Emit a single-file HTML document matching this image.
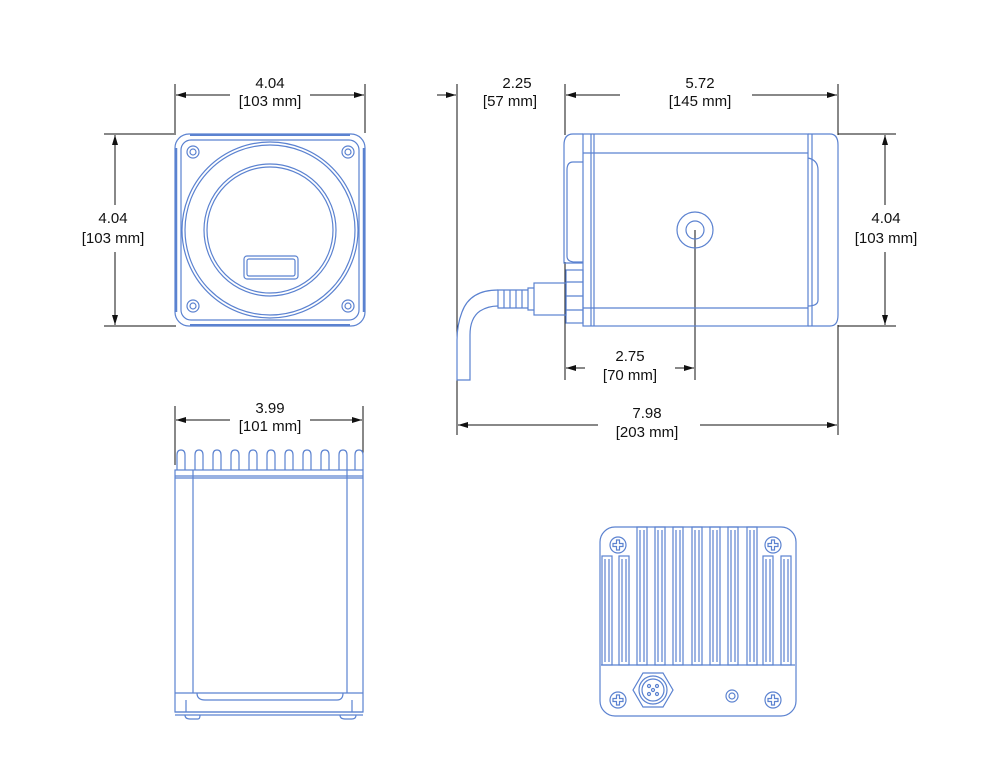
<!DOCTYPE html>
<html><head><style>body{margin:0;background:#fff}svg{display:block}text{font-family:"Liberation Sans",sans-serif;font-size:15px;fill:#111;text-anchor:middle}</style></head><body>
<svg width="1000" height="766" viewBox="0 0 1000 766">
<defs><marker id="a" markerWidth="10" markerHeight="8" refX="10" refY="4" orient="auto" markerUnits="userSpaceOnUse"><path d="M0,1 L10,4 L0,7 Z" fill="#111"/></marker></defs>
<g stroke="#111" stroke-width="1" fill="none">
<line x1="175" y1="84" x2="175" y2="133"/><line x1="365" y1="84" x2="365" y2="133"/>
<line x1="230" y1="95" x2="176" y2="95" marker-end="url(#a)"/><line x1="310" y1="95" x2="364" y2="95" marker-end="url(#a)"/>
<line x1="104" y1="134" x2="176" y2="134"/><line x1="104" y1="326" x2="176" y2="326"/>
<line x1="115" y1="205" x2="115" y2="135" marker-end="url(#a)"/><line x1="115" y1="252" x2="115" y2="325" marker-end="url(#a)"/>
<line x1="457" y1="84" x2="457" y2="435"/><line x1="565" y1="84" x2="565" y2="135"/><line x1="565" y1="262" x2="565" y2="380"/>
<line x1="838" y1="84" x2="838" y2="135"/><line x1="838" y1="325" x2="838" y2="435"/>
<line x1="437" y1="95" x2="456" y2="95" marker-end="url(#a)"/>
<line x1="620" y1="95" x2="566" y2="95" marker-end="url(#a)"/><line x1="752" y1="95" x2="837" y2="95" marker-end="url(#a)"/>
<line x1="838" y1="134" x2="896" y2="134"/><line x1="838" y1="326" x2="896" y2="326"/>
<line x1="885" y1="205" x2="885" y2="135" marker-end="url(#a)"/><line x1="885" y1="252" x2="885" y2="325" marker-end="url(#a)"/>
<line x1="585" y1="368" x2="566" y2="368" marker-end="url(#a)"/><line x1="675" y1="368" x2="694" y2="368" marker-end="url(#a)"/>
<line x1="695" y1="230" x2="695" y2="380"/>
<line x1="598" y1="425" x2="458" y2="425" marker-end="url(#a)"/><line x1="700" y1="425" x2="837" y2="425" marker-end="url(#a)"/>
<line x1="175" y1="406" x2="175" y2="465"/><line x1="363" y1="406" x2="363" y2="465"/>
<line x1="230" y1="420" x2="176" y2="420" marker-end="url(#a)"/><line x1="310" y1="420" x2="362" y2="420" marker-end="url(#a)"/>
</g>
<text x="270" y="88">4.04</text><text x="270" y="106">[103 mm]</text>
<text x="113" y="223">4.04</text><text x="113" y="243">[103 mm]</text>
<text x="517" y="88">2.25</text><text x="510" y="106">[57 mm]</text>
<text x="700" y="88">5.72</text><text x="700" y="106">[145 mm]</text>
<text x="886" y="223">4.04</text><text x="886" y="243">[103 mm]</text>
<text x="630" y="361">2.75</text><text x="630" y="380">[70 mm]</text>
<text x="647" y="418">7.98</text><text x="647" y="437">[203 mm]</text>
<text x="270" y="413">3.99</text><text x="270" y="431">[101 mm]</text>
<g stroke="#5b82d0" stroke-width="1.2" fill="none">
<rect x="175" y="134" width="190" height="192" rx="14"/>
<rect x="181" y="140" width="178" height="180" rx="10"/>
<line x1="176" y1="148" x2="176" y2="312" stroke-width="2.5"/><line x1="364" y1="148" x2="364" y2="312" stroke-width="2.5"/>
<line x1="190" y1="135" x2="350" y2="135" stroke-width="2"/><line x1="190" y1="325" x2="350" y2="325" stroke-width="2"/>
<circle cx="270" cy="230" r="88"/><circle cx="270" cy="230" r="85"/>
<circle cx="270" cy="230" r="66"/><circle cx="270" cy="230" r="63"/>
<rect x="244" y="256" width="54" height="23" rx="3"/><rect x="247" y="259" width="48" height="17" rx="2"/>
<circle cx="193" cy="152" r="6"/><circle cx="193" cy="152" r="3"/>
<circle cx="348" cy="152" r="6"/><circle cx="348" cy="152" r="3"/>
<circle cx="193" cy="306" r="6"/><circle cx="193" cy="306" r="3"/>
<circle cx="348" cy="306" r="6"/><circle cx="348" cy="306" r="3"/>
<path d="M583,134 H573 Q564,134 564,145 V263 H583"/>
<path d="M583,162 H573 Q567,162 567,170 V256 Q567,262 575,262 H583"/>
<rect x="583" y="134" width="225" height="192"/>
<line x1="583" y1="153" x2="808" y2="153"/><line x1="583" y1="308" x2="808" y2="308"/>
<line x1="591" y1="134" x2="591" y2="326"/><line x1="594" y1="134" x2="594" y2="326"/>
<path d="M808,134 H830 Q838,134 838,145 V315 Q838,326 830,326 H808"/>
<path d="M808,158 Q818,160 818,170 V300 Q818,306 808,306"/>
<line x1="812" y1="134" x2="812" y2="326"/>
<circle cx="695" cy="230" r="18"/><circle cx="695" cy="230" r="9"/>
<rect x="566" y="270" width="17" height="53"/>
<line x1="566" y1="282" x2="583" y2="282"/><line x1="566" y1="296" x2="583" y2="296"/><line x1="566" y1="310" x2="583" y2="310"/>
<rect x="534" y="283" width="32" height="32"/>
<path d="M534,288 H528 V310 H534 M528,290 H522 V308 H528 M522,290 H516 V308 H522 M516,290 H510 V308 H516 M510,290 H504 V308 H510 M504,290 H498 V308 H504"/>
<path d="M498,290 Q470,290 462,312 Q457,325 457,340 V380 H470 V335 Q470,318 480,311 Q488,306 498,306"/>
<rect x="175" y="470" width="188" height="242"/>
<line x1="175" y1="476" x2="363" y2="476"/><line x1="175" y1="478" x2="363" y2="478"/>
<line x1="193" y1="470" x2="193" y2="693"/><line x1="347" y1="470" x2="347" y2="693"/>
<line x1="175" y1="693" x2="363" y2="693"/><line x1="175" y1="712" x2="363" y2="712"/><line x1="175" y1="715" x2="363" y2="715"/>
<path d="M197,693 Q197,700 205,700 H337 Q343,700 343,693"/>
<line x1="186" y1="700" x2="186" y2="712"/><line x1="352" y1="700" x2="352" y2="712"/>
<path d="M185,715 Q185,719 190,719 H198 Q200,719 200,715 M340,715 Q340,719 345,719 H352 Q356,719 356,715"/>
<path d="M177,470 V455 Q177,450 181,450 Q185,450 185,455 V470 M195,470 V455 Q195,450 199,450 Q203,450 203,455 V470 M213,470 V455 Q213,450 217,450 Q221,450 221,455 V470 M231,470 V455 Q231,450 235,450 Q239,450 239,455 V470 M249,470 V455 Q249,450 253,450 Q257,450 257,455 V470 M267,470 V455 Q267,450 271,450 Q275,450 275,455 V470 M285,470 V455 Q285,450 289,450 Q293,450 293,455 V470 M303,470 V455 Q303,450 307,450 Q311,450 311,455 V470 M321,470 V455 Q321,450 325,450 Q329,450 329,455 V470 M339,470 V455 Q339,450 343,450 Q347,450 347,455 V470 M355,470 V455 Q355,450 359,450 Q363,450 363,455 V470"/>
<rect x="600" y="527" width="196" height="189" rx="15"/>
<line x1="601" y1="665" x2="795" y2="665"/>
<g id="f"><rect x="637" y="527" width="10" height="138"/><line x1="640" y1="530" x2="640" y2="662"/><line x1="644" y1="530" x2="644" y2="662"/></g>
<use href="#f" x="18"/><use href="#f" x="36"/><use href="#f" x="55"/><use href="#f" x="73"/><use href="#f" x="91"/><use href="#f" x="110"/>
<g id="s"><rect x="602" y="556" width="10" height="109"/><line x1="605" y1="559" x2="605" y2="662"/><line x1="609" y1="559" x2="609" y2="662"/></g>
<use href="#s" x="17"/><use href="#s" x="161"/><use href="#s" x="179"/>
<g id="p"><circle cx="618" cy="545" r="8"/><path d="M616.5,540 H619.5 V543.5 H623 V546.5 H619.5 V550 H616.5 V546.5 H613 V543.5 H616.5 Z"/></g>
<use href="#p" x="155"/><use href="#p" y="155"/><use href="#p" x="155" y="155"/>
<polygon points="633,690 643,673 663,673 673,690 663,707 643,707"/>
<circle cx="653" cy="690" r="14"/><circle cx="653" cy="690" r="11"/>
<circle cx="649" cy="686" r="1.5"/><circle cx="657" cy="686" r="1.5"/><circle cx="653" cy="690" r="1.5"/><circle cx="649" cy="694" r="1.5"/><circle cx="657" cy="694" r="1.5"/>
<circle cx="732" cy="696" r="6"/><circle cx="732" cy="696" r="3"/>
</g>
</svg>
</body></html>
